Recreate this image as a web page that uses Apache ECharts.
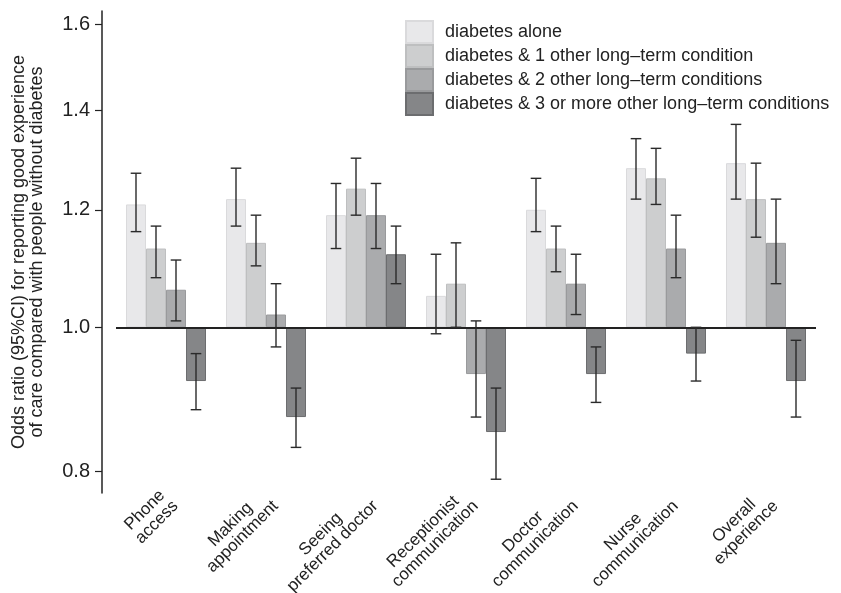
<!DOCTYPE html>
<html>
<head>
<meta charset="utf-8">
<script src="https://cdn.jsdelivr.net/npm/echarts@6/dist/echarts.min.js"></script>
<style>html,body{margin:0;padding:0;background:#fff;}#c{width:841px;height:593px;}</style>
</head>
<body>
<div id="c"></div>
<script>
const categories = ['Phone\naccess','Making\nappointment','Seeing\npreferred doctor','Receptionist\ncommunication','Doctor\ncommunication','Nurse\ncommunication','Overall\nexperience'];
const seriesNames = ['diabetes alone','diabetes & 1 other long\u2013term condition','diabetes & 2 other long\u2013term conditions','diabetes & 3 or more other long\u2013term conditions'];

const alone    = [1.21, 1.22, 1.19, 1.05, 1.20, 1.28, 1.29];
const aloneLo  = [1.16, 1.17, 1.13, 0.99, 1.16, 1.22, 1.22];
const aloneHi  = [1.27, 1.28, 1.25, 1.12, 1.26, 1.34, 1.37];

const one      = [1.13, 1.14, 1.24, 1.07, 1.13, 1.26, 1.22];
const oneLo    = [1.08, 1.10, 1.19, 1.00, 1.09, 1.21, 1.15];
const oneHi    = [1.17, 1.19, 1.30, 1.14, 1.17, 1.32, 1.29];

const two      = [1.06, 1.02, 1.19, 0.93, 1.07, 1.13, 1.14];
const twoLo    = [1.01, 0.97, 1.13, 0.87, 1.02, 1.08, 1.07];
const twoHi    = [1.11, 1.07, 1.25, 1.01, 1.12, 1.19, 1.22];

const three    = [0.92, 0.87, 1.12, 0.85, 0.93, 0.96, 0.92];
const threeLo  = [0.88, 0.83, 1.07, 0.79, 0.89, 0.92, 0.87];
const threeHi  = [0.96, 0.91, 1.17, 0.91, 0.97, 1.00, 0.98];

const yTicks = [0.8, 1.0, 1.2, 1.4, 1.6];

const fills   = ['#e8e8ea', '#cdcecf', '#aaabad', '#858688'];
const borders = ['#dadadc', '#bebfc0', '#999a9c', '#6c6d6f'];

const groups = [
  [alone, aloneLo, aloneHi],
  [one, oneLo, oneHi],
  [two, twoLo, twoHi],
  [three, threeLo, threeHi]
];

const L = Math.log;
const series = [];
groups.forEach((g, k) => {
  const s = {
    name: seriesNames[k],
    type: 'bar',
    barWidth: 20,
    barGap: '0%',
    data: g[0].map(v => L(v)),
    itemStyle: { color: fills[k], borderColor: borders[k], borderWidth: 1 },
    emphasis: { disabled: true },
    z: 2
  };
  if (k === 3) {
    s.markLine = {
      silent: true,
      symbol: ['none', 'none'],
      label: { show: false },
      lineStyle: { color: '#222', width: 2, type: 'solid' },
      data: [{ yAxis: 0 }],
      z: 5
    };
  }
  series.push(s);
});
groups.forEach((g, k) => {
  series.push({
    type: 'custom',
    silent: true,
    z: 6,
    data: g[1].map((lo, i) => [i, L(lo), L(g[2][i])]),
    encode: { x: 0, y: [1, 2] },
    renderItem: function (params, api) {
      const i = api.value(0);
      const p1 = api.coord([i, api.value(1)]);
      const p2 = api.coord([i, api.value(2)]);
      const band = api.size([1, 0])[0];
      const bw = band * 0.2;
      const x = p1[0] + (k - 1.5) * bw;
      const cap = 5.3;
      const st = { stroke: '#2a2a2a', lineWidth: 1.4 };
      return {
        type: 'group',
        children: [
          { type: 'line', shape: { x1: x, y1: p1[1], x2: x, y2: p2[1] }, style: st },
          { type: 'line', shape: { x1: x - cap, y1: p1[1], x2: x + cap, y2: p1[1] }, style: st },
          { type: 'line', shape: { x1: x - cap, y1: p2[1], x2: x + cap, y2: p2[1] }, style: st }
        ]
      };
    }
  });
});

const chart = echarts.init(document.getElementById('c'), null, { renderer: 'canvas' });
chart.setOption({
  animation: false,
  backgroundColor: '#fff',
  grid: { left: 116, right: 25, top: 11, bottom: 100, containLabel: false, outerBoundsMode: 'none' },
  legend: {
    orient: 'vertical',
    left: 405,
    top: 20,
    padding: 0,
    itemWidth: 27,
    itemHeight: 22,
    itemGap: 0,
    icon: 'rect',
    selectedMode: false,
    data: seriesNames,
    textStyle: { fontFamily: 'Liberation Sans', fontSize: 18, lineHeight: 22.5, color: '#222', padding: [0, 0, 0, 7] }
  },
  xAxis: {
    type: 'category',
    data: categories,
    axisLine: { show: false, onZero: false },
    axisTick: { show: false },
    axisLabel: {
      interval: 0,
      rotate: 45,
      margin: 8,
      fontFamily: 'Liberation Sans',
      fontSize: 17,
      color: '#222',
      lineHeight: 17,
      padding: [0, -5, 0, 0],
      formatter: v => v.split('\n').map(t => '{a|' + t + '}').join('\n'),
      rich: { a: { align: 'center', fontFamily: 'Liberation Sans', fontSize: 17, lineHeight: 17, color: '#222' } }
    }
  },
  yAxis: {
    type: 'value',
    min: L(0.7733),
    max: L(1.6335),
    offset: 14,
    splitLine: { show: false },
    axisLine: { show: true, lineStyle: { color: '#222', width: 1.5 } },
    axisTick: { show: true, length: 7, customValues: yTicks.map(v => L(v)), lineStyle: { color: '#222', width: 1.2 } },
    axisLabel: {
      customValues: yTicks.map(v => L(v)),
      formatter: v => Math.exp(v).toFixed(1),
      fontFamily: 'Liberation Sans',
      fontSize: 20,
      color: '#222',
      margin: 12
    },
    name: 'Odds ratio (95%CI) for reporting good experience\nof care compared with people without diabetes',
    nameLocation: 'middle',
    nameGap: 56,
    nameTextStyle: { fontFamily: 'Liberation Sans', fontSize: 18, lineHeight: 18, color: '#222', align: 'center' }
  },
  series: series
});
</script>
</body>
</html>
